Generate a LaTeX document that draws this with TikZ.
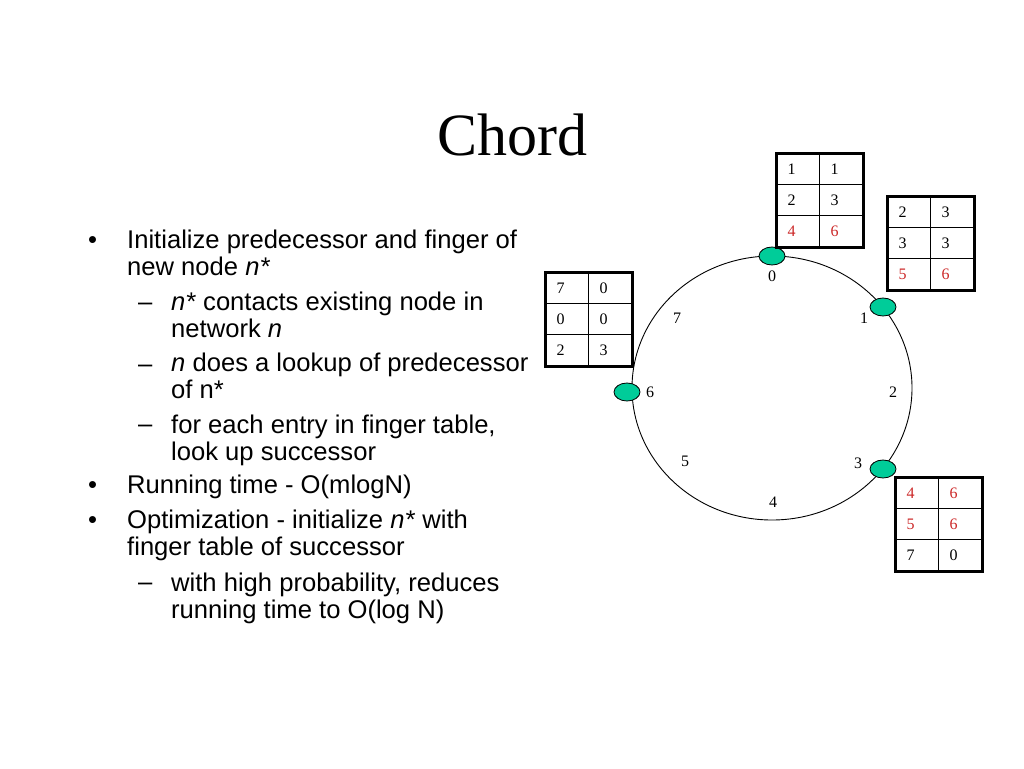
\documentclass[tikz,border=0pt]{standalone}
\usepackage{fontspec}
\setmainfont{Liberation Serif}
\setsansfont{Liberation Sans}
\usetikzlibrary{matrix,shapes.geometric}
\definecolor{peergreen}{RGB}{0,204,153}
\definecolor{fingerred}{RGB}{204,40,40}
\tikzset{
	peer/.style={ellipse,draw,line width=0.8pt,fill=peergreen,minimum width=26pt,minimum height=18pt,inner sep=0pt},
	ringlabel/.style={font=\fontsize{16}{16}\selectfont,inner sep=0pt},
	ftab/.style={matrix of nodes,inner sep=0pt,anchor=north west,column sep=-1pt,row sep=-1pt,
		nodes={draw,line width=1pt,minimum width=43pt,minimum height=31pt,text width=21pt,
		inner xsep=11pt,text height=11pt,text depth=0pt,align=left,font=\fontsize{16}{16}\selectfont}},
	item/.style={anchor=base west,align=left,inner sep=0pt,font=\fontsize{25.6}{27}\selectfont\sffamily},
	mark1/.style={anchor=base west,inner sep=0pt,font=\fontsize{25.6}{27}\selectfont\sffamily}
}
\begin{document}
\begin{tikzpicture}[x=1pt,y=-1pt]

	\fill[white] (0,0) rectangle (1024,768);
	\useasboundingbox (0,0) rectangle (1024,768);

	\node[font=\fontsize{60}{60}\selectfont,anchor=base,inner sep=0pt] (title) at (512,155) {Chord};

	\node[mark1] (b1) at (88,248) {\textbullet};
	\node[item] (i1) at (127,275) {Initialize predecessor and finger of\\new node \textit{n*}};
	\node[mark1] (d1) at (138,310) {–};
	\node[item] (s1) at (171,337) {\textit{n*} contacts existing node in\\network \textit{n}};
	\node[mark1] (d2) at (138,372) {–};
	\node[item] (s2) at (171,398) {\textit{n} does a lookup of predecessor\\of n*};
	\node[mark1] (d3) at (138,432) {–};
	\node[item] (s3) at (171,460) {for each entry in finger table,\\look up successor};
	\node[mark1] (b2) at (88,493) {\textbullet};
	\node[item] (i2) at (127,493) {Running time - O(mlogN)};
	\node[mark1] (b3) at (88,528) {\textbullet};
	\node[item] (i3) at (127,555) {Optimization - initialize \textit{n*} with\\finger table of successor};
	\node[mark1] (d4) at (138,590) {–};
	\node[item] (s4) at (171,618) {with high probability, reduces\\running time to O(log N)};

	\draw[line width=0.9pt] (772,388) ellipse [x radius=140,y radius=132];

	\foreach \lab/\x/\y in {0/772/276,1/864/318,2/893/392,3/858/463,4/773/502,5/685/461,6/650/392,7/677/318}
		\node[ringlabel] (l\lab) at (\x,\y) {\lab};

	\node[peer] (p0) at (772,256) {};
	\node[peer] (p1) at (883,307) {};
	\node[peer] (p3) at (883,469) {};
	\node[peer] (p6) at (627,392) {};

	\matrix (t0) [ftab] at (776,153) {
		1 & 1 \\
		2 & 3 \\
		|[text=fingerred]| 4 & |[text=fingerred]| 6 \\
	};
	\matrix (t1) [ftab] at (887,196) {
		2 & 3 \\
		3 & 3 \\
		|[text=fingerred]| 5 & |[text=fingerred]| 6 \\
	};
	\matrix (t3) [ftab] at (895,477) {
		|[text=fingerred]| 4 & |[text=fingerred]| 6 \\
		|[text=fingerred]| 5 & |[text=fingerred]| 6 \\
		7 & 0 \\
	};
	\matrix (t6) [ftab] at (545,272) {
		7 & 0 \\
		0 & 0 \\
		2 & 3 \\
	};
	\foreach \t in {t0,t1,t3,t6}
		\draw[line width=3pt] (\t.north west) rectangle (\t.south east);

\end{tikzpicture}
\end{document}
